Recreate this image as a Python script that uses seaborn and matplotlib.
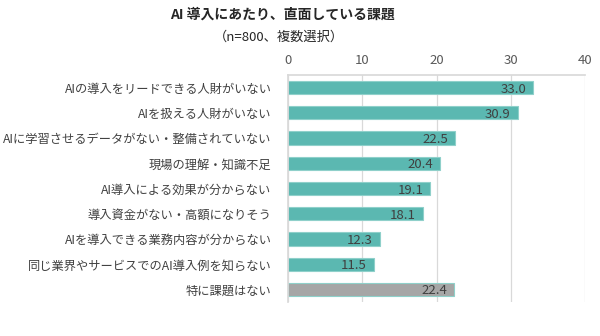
import matplotlib
matplotlib.use("Agg")
import matplotlib.pyplot as plt
import seaborn as sns
import pandas as pd

categories = [
    "AIの導入をリードできる人財がいない",
    "AIを扱える人財がいない",
    "AIに学習させるデータがない・整備されていない",
    "現場の理解・知識不足",
    "AI導入による効果が分からない",
    "導入資金がない・高額になりそう",
    "AIを導入できる業務内容が分からない",
    "同じ業界やサービスでのAI導入例を知らない",
    "特に課題はない",
]
values = [33.0, 30.9, 22.5, 20.4, 19.1, 18.1, 12.3, 11.5, 22.4]
groups = ["issue"] * 8 + ["none"]
x_ticks = [0, 10, 20, 30, 40]
title = "AI 導入にあたり、直面している課題"
subtitle = "（n=800、複数選択）"

sns.set_theme(style="white")
plt.rcParams["font.family"] = ["Noto Sans CJK JP", "DejaVu Sans"]

df = pd.DataFrame({"cat": categories, "val": values, "grp": groups})
palette = {"issue": "#5BB8B1", "none": "#A6A6A6"}

fig = plt.figure(figsize=(6.0, 3.36), dpi=100)
ax = fig.add_axes([0.4805, 0.101, 0.4945, 0.676])

sns.barplot(data=df, y="cat", x="val", hue="grp", palette=palette, dodge=False,
            width=0.53, legend=False, ax=ax, orient="h", saturation=1)

for patch, g in zip(ax.patches, groups):
    pass
for p in ax.patches:
    fc = p.get_facecolor()
    p.set_edgecolor("#8FD0CA" if fc[1] > 0.6 else "#8C8C8C")
    p.set_linewidth(0.8)

for i, v in enumerate(values):
    ax.text(v - 0.9, i + 0.06, f"{v:.1f}", ha="right", va="center",
            fontsize=9.5, color="#404040")

ax.set_xlim(0, 40)
ax.set_ylim(8.5, -0.5)
ax.set_xticks(x_ticks)
ax.xaxis.tick_top()
ax.tick_params(axis="x", length=0, pad=6, labelsize=9.5, labelcolor="#595959")
ax.tick_params(axis="y", length=0, pad=12, labelsize=8.8, labelcolor="#404040")
ax.set_xlabel("")
ax.set_ylabel("")
ax.grid(axis="x", color="#D9D9D9", linewidth=0.9)
ax.set_axisbelow(True)
for s in ["top", "left", "right", "bottom"]:
    ax.spines[s].set_visible(False)
ax.spines["top"].set_visible(True)
ax.spines["top"].set_color("#D9D9D9")
ax.spines["left"].set_visible(True)
ax.spines["left"].set_color("#D9D9D9")

fig.text(0.47, 0.958, title, ha="center", va="center", fontsize=10,
         fontweight="bold", color="#262626")
fig.text(0.465, 0.89, subtitle, ha="center", va="center", fontsize=9.5,
         color="#262626")

fig.savefig("out.png", dpi=100, facecolor="white")
